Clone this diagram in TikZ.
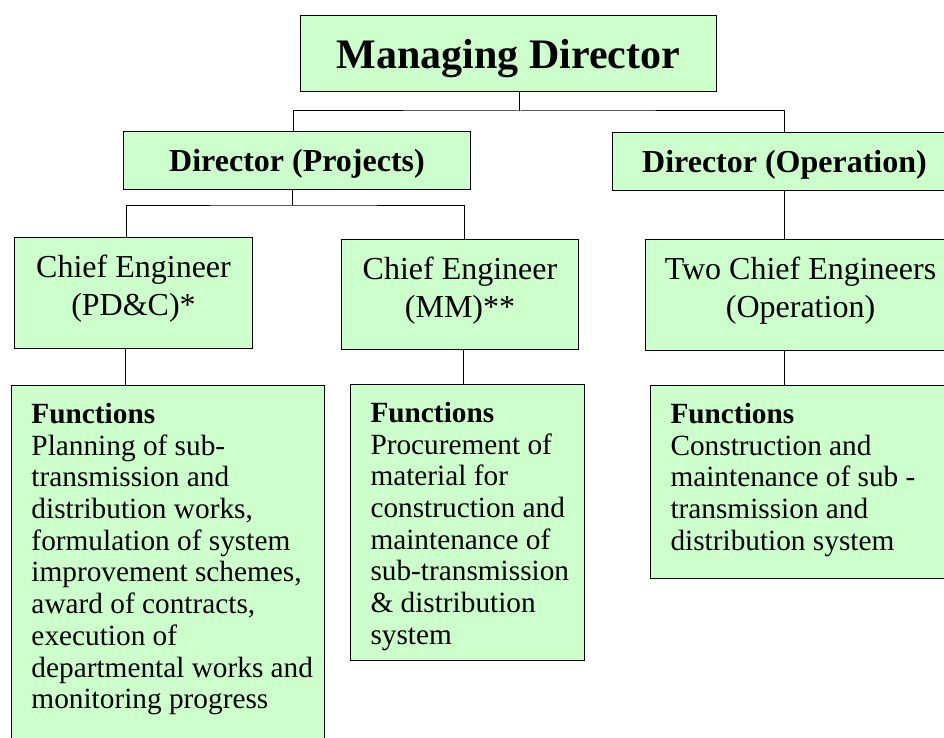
\documentclass[tikz,border=0pt]{standalone}
\usepackage{fontspec}
\setmainfont{Liberation Serif}
\definecolor{boxgreen}{HTML}{CCFFCC}

\begin{document}
\begin{tikzpicture}[x=1pt,y=-1pt,line width=1pt,
    box/.style={draw,fill=boxgreen,anchor=north west,inner sep=0pt},
    head/.style={box,text depth=0pt,font=\bfseries\fontsize{#1}{#1}\selectfont},
    ce/.style 2 args={box,font=\fontsize{32}{37.7}\selectfont,
      execute at begin node={\begin{minipage}[t][#2pt][t]{#1pt}\vspace*{13.6pt}\centering\strut},
      execute at end node={\end{minipage}}},
    fn/.style 2 args={box,font=\fontsize{29.3}{31.7}\selectfont,
      execute at begin node={\begin{minipage}[t][#2pt][t]{#1pt}\vspace*{15.8pt}\raggedright\leftskip=20pt\strut},
      execute at end node={\end{minipage}}}]
\useasboundingbox (0,0) rectangle (944,738);

\node (md) [head=42,minimum width=416pt,minimum height=76pt] at (300,15) {Managing Director};
\node (dp) [head=32,minimum width=347pt,minimum height=58pt] at (123,131) {Director (Projects)};
\node (do) [head=32,minimum width=344pt,minimum height=58pt] at (612,132) {Director (Operation)};

\node (cepd) [ce={238}{111}] at (14,237) {Chief Engineer\\(PD\&C)*};
\node (cemm) [ce={237}{110}] at (341,239) {Chief Engineer\\(MM)**};
\node (ceop) [ce={310}{111}] at (645,239) {Two Chief Engineers\\(Operation)};

\node (fnpd) [fn={313}{365}] at (11,385) {\textbf{Functions}\\Planning of sub-\\transmission and\\
  distribution works,\\formulation of system\\improvement schemes,\\award of contracts,\\
  execution of\\departmental works and\\monitoring progress};
\node (fnmm) [fn={234}{276}] at (350,384) {\textbf{Functions}\\Procurement of\\material for\\
  construction and\\maintenance of\\sub-transmission\\\& distribution\\system};
\node (fnop) [fn={310}{193}] at (650,385) {\textbf{Functions}\\Construction and\\
  maintenance of sub -\\transmission and\\distribution system};

\coordinate (mdbus) at (519,111);
\coordinate (pbus) at (292,205);
\draw (md.south -| mdbus) -- (mdbus);
\draw ([xshift=-3.5pt]dp.north) |- (mdbus) -| (do.north);
\draw (dp.south -| pbus) -- (pbus);
\draw ([xshift=-7pt]cepd.north) |- (pbus) -| ([xshift=4.5pt]cemm.north);
\draw ([xshift=-8pt]cepd.south) -- ([xshift=-8pt]cepd.south |- fnpd.north);
\draw ([xshift=3.5pt]cemm.south) -- ([xshift=3.5pt]cemm.south |- fnmm.north);
\draw (do.south) -- (do.south |- ceop.north);
\draw (do.south |- ceop.south) -- (do.south |- fnop.north);

\end{tikzpicture}
\end{document}
